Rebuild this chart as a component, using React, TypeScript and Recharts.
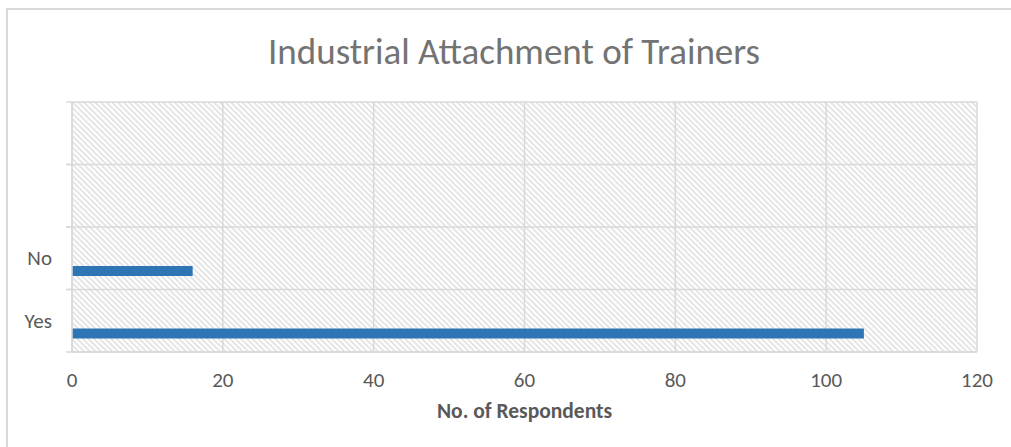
import { Bar, BarChart, CartesianGrid, Label, XAxis, YAxis } from 'recharts'

// Excel order: first category sits at the bottom of the axis
const categories = ['Yes', 'No', '', '']
const respondents = [105, 16, null, null]
// second (empty) series in the source workbook, keeps the bar offset in its band
const emptySeries = [null, null, null, null]
const xTicks = [0, 20, 40, 60, 80, 100, 120]

const COLORS = {
  frame: '#d9d9d9',
  grid: '#d9d9d9',
  hatch: '#d4d4d4',
  text: '#595959',
  title: '#737373',
  bar: '#2e75b6'
}

const FONT = 'Carlito, Lato, "Open Sans", sans-serif'

const data = categories.map((label, i) => ({
  key: `c${i}`,
  label,
  respondents: respondents[i],
  empty: emptySeries[i]
}))

function CategoryTick(props: any) {
  const { x, y, payload, index } = props
  const half = payload?.offset || 31.25
  const label = categories[index] ?? ''
  return (
    <g>
      <line x1={x} x2={x + 6} y1={y + half} y2={y + half} stroke={COLORS.grid} strokeWidth={1.5} />
      <line x1={x} x2={x + 6} y1={y - half} y2={y - half} stroke={COLORS.grid} strokeWidth={1.5} />
      <text x={x - 14} y={y} textAnchor="end" dominantBaseline="central" fill={COLORS.text} fontSize={21} fontFamily={FONT}>
        {label}
      </text>
    </g>
  )
}

export default function App() {
  return (
    <div style={{ position: 'fixed', left: 0, top: 0, width: 1011, height: 447, background: '#fff', overflow: 'hidden' }}>
      <svg width={0} height={0} style={{ position: 'absolute' }}>
        <defs>
          <pattern id="hatch" width={4} height={4} patternUnits="userSpaceOnUse" patternTransform="rotate(45)">
            <rect width={4} height={4} fill="#fff" />
            <line x1={0} y1={1} x2={4} y2={1} stroke={COLORS.hatch} strokeWidth={1.2} />
          </pattern>
        </defs>
      </svg>
      <div
        style={{
          position: 'absolute',
          left: 6,
          top: 8,
          width: 1100,
          height: 500,
          border: `2px solid ${COLORS.frame}`
        }}
      />
      <div
        style={{
          position: 'absolute',
          left: 0,
          width: 1028,
          top: 29,
          textAlign: 'center',
          fontFamily: FONT,
          fontWeight: 300,
          fontSize: 37,
          color: COLORS.title,
          lineHeight: '45px'
        }}
      >
        Industrial Attachment of Trainers
      </div>
      <div style={{ position: 'absolute', left: 0, top: 0 }}>
        <BarChart
          width={1011}
          height={447}
          data={data}
          layout="vertical"
          margin={{ top: 102, right: 34, bottom: 0, left: 0 }}
          barSize={10}
          barGap={15}
        >
          <CartesianGrid
            stroke={COLORS.grid}
            strokeWidth={1.5}
            fill="url(#hatch)"
            fillOpacity={1}
            horizontalCoordinatesGenerator={({ offset }: any) =>
              categories.concat(['']).map((_, i) => offset.top + (i * offset.height) / categories.length)
            }
          />
          <XAxis
            type="number"
            domain={[0, 120]}
            ticks={xTicks}
            height={95}
            tickLine={false}
            axisLine={{ stroke: COLORS.grid, strokeWidth: 1.5 }}
            tick={{ fill: COLORS.text, fontSize: 21, fontFamily: FONT }}
            tickMargin={14}
          >
            <Label
              value="No. of Respondents"
              position="insideBottom"
              offset={29}
              fill={COLORS.text}
              fontSize={21.5}
              fontWeight={700}
              fontFamily={FONT}
            />
          </XAxis>
          <YAxis
            type="category"
            dataKey="key"
            reversed
            width={72}
            tickLine={false}
            tickSize={6}
            tickMargin={0}
            axisLine={{ stroke: COLORS.grid, strokeWidth: 1.5 }}
            tick={<CategoryTick />}
            interval={0}
          />
          <Bar dataKey="empty" fill={COLORS.bar} isAnimationActive={false} />
          <Bar dataKey="respondents" name="No. of Respondents" fill={COLORS.bar} isAnimationActive={false} />
        </BarChart>
      </div>
    </div>
  )
}
